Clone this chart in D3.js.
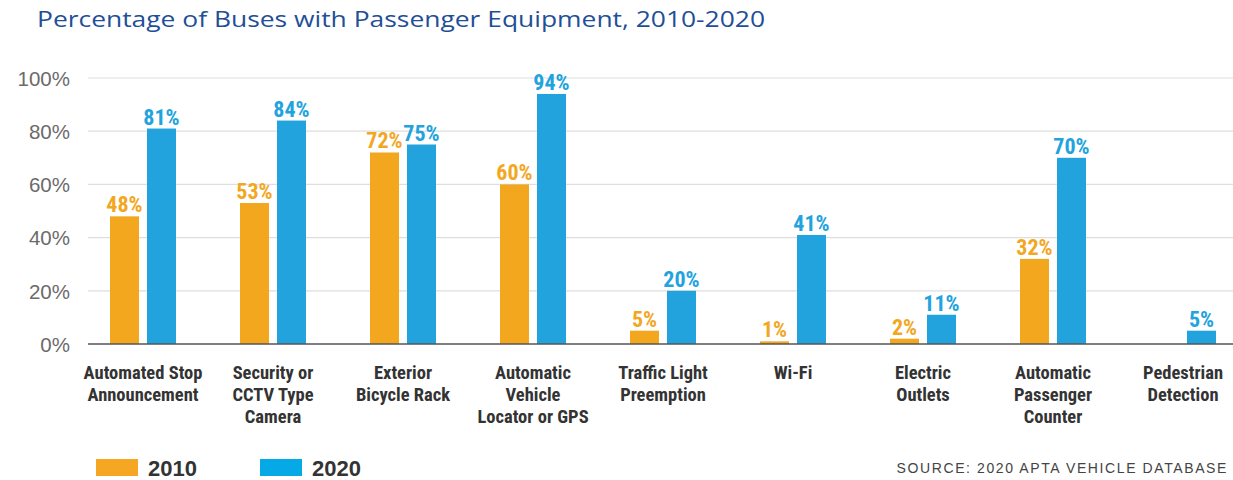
<!DOCTYPE html>
<html><head><meta charset="utf-8">
<script src="https://cdn.jsdelivr.net/npm/d3@7"></script>
<style>body{margin:0;background:#fff}svg{display:block}</style>
</head><body>
<svg id="chart" width="1233" height="480"></svg>
<script>
const categories = [
  ["Automated Stop","Announcement"],
  ["Security or","CCTV Type","Camera"],
  ["Exterior","Bicycle Rack"],
  ["Automatic","Vehicle","Locator or GPS"],
  ["Traffic Light","Preemption"],
  ["Wi-Fi"],
  ["Electric","Outlets"],
  ["Automatic","Passenger","Counter"],
  ["Pedestrian","Detection"]
];
const years = ["2010","2020"];
const values2010 = [48,53,72,60,5,1,2,32,null];
const values2020 = [81,84,75,94,20,41,11,70,5];
const yTicks = [0,20,40,60,80,100];
const title = "Percentage of Buses with Passenger Equipment, 2010-2020";
const source = "SOURCE: 2020 APTA VEHICLE DATABASE";

const barColors = {"2010":"#F2A71F","2020":"#22A3DD"};
const legendColors = {"2010":"#F5A623","2020":"#04A9E6"};
const condensed = "'Liberation Sans Narrow','Arial Narrow','Roboto Condensed',Roboto,sans-serif";

const svg = d3.select("#chart");
const ids = categories.map((c,i)=>i);
const x0 = d3.scaleBand().domain(ids).range([78,1248]).paddingInner(0).paddingOuter(0);
const x1 = d3.scaleBand().domain(years).range([32,98]).paddingInner(0.216);
const y = d3.scaleLinear().domain([0,100]).range([344,78]);

// title
svg.append("text").attr("x",37).attr("y",27)
  .attr("font-family","'Open Sans',Lato,sans-serif").attr("font-size",21.5)
  .attr("fill","#1F4F96").attr("textLength",728).attr("lengthAdjust","spacingAndGlyphs")
  .text(title);

// gridlines
svg.append("g").selectAll("line").data(yTicks.filter(d=>d>0)).join("line")
  .attr("x1",88).attr("x2",1233).attr("y1",d=>y(d)).attr("y2",d=>y(d))
  .attr("stroke","#dedede").attr("stroke-width",1.2);

// y axis
const yAxis = d3.axisLeft(y).tickValues(yTicks).tickFormat(d=>d+"%").tickSize(0).tickPadding(0);
const ya = svg.append("g").attr("transform","translate(70,0)").call(yAxis);
ya.select(".domain").remove();
ya.selectAll("text").attr("font-family","'Liberation Sans',Arial,sans-serif")
  .attr("font-size",20.5).attr("fill","#6b6b6b").attr("dy","0.36em");

// bars
const data = categories.map((c,i)=>({i, vals:[{k:"2010",v:values2010[i]},{k:"2020",v:values2020[i]}]}));
const g = svg.append("g").selectAll("g").data(data).join("g")
  .attr("transform",d=>`translate(${x0(d.i)},0)`);
g.selectAll("rect").data(d=>d.vals.filter(e=>e.v!=null)).join("rect")
  .attr("x",d=>x1(d.k)).attr("width",x1.bandwidth())
  .attr("y",d=>y(d.v)).attr("height",d=>y(0)-y(d.v))
  .attr("fill",d=>barColors[d.k]);
g.selectAll("text.val").data(d=>d.vals.filter(e=>e.v!=null)).join("text")
  .attr("class","val")
  .attr("x",d=>x1(d.k)+x1.bandwidth()/2).attr("y",d=>y(d.v)-4)
  .attr("text-anchor","middle").attr("font-family",condensed).attr("font-weight","bold")
  .attr("font-size",22).attr("fill",d=>barColors[d.k]).text(d=>d.v+"%");

// baseline
svg.append("line").attr("x1",88).attr("x2",1233).attr("y1",y(0)).attr("y2",y(0))
  .attr("stroke","#555").attr("stroke-width",1.5);

// category labels
const xAxis = d3.axisBottom(x0).tickSize(0).tickFormat("");
const xa = svg.append("g").attr("transform",`translate(0,${y(0)})`).call(xAxis);
xa.select(".domain").remove();
xa.selectAll(".tick").each(function(d){
  const t = d3.select(this).append("text").attr("text-anchor","middle")
    .attr("font-family",condensed).attr("font-weight","bold").attr("font-size",18.5)
    .attr("fill","#333");
  categories[d].forEach((line,j)=>{
    t.append("tspan").attr("x",0).attr("y",35+j*22).text(line);
  });
});

// legend
const lg = svg.append("g");
const lx = {"2010":96,"2020":260};
years.forEach(k=>{
  lg.append("rect").attr("x",lx[k]).attr("y",459).attr("width",42).attr("height",17).attr("fill",legendColors[k]);
  lg.append("text").attr("x",lx[k]+52).attr("y",476).attr("font-family","'Liberation Sans',Arial,sans-serif")
    .attr("font-weight","bold").attr("font-size",22).attr("fill","#333").text(k);
});

// source
svg.append("text").attr("x",1228).attr("y",473).attr("text-anchor","end")
  .attr("font-family","'Liberation Sans',Arial,sans-serif").attr("font-size",14)
  .attr("letter-spacing",1.6).attr("fill","#444").text(source);
</script>
</body></html>
